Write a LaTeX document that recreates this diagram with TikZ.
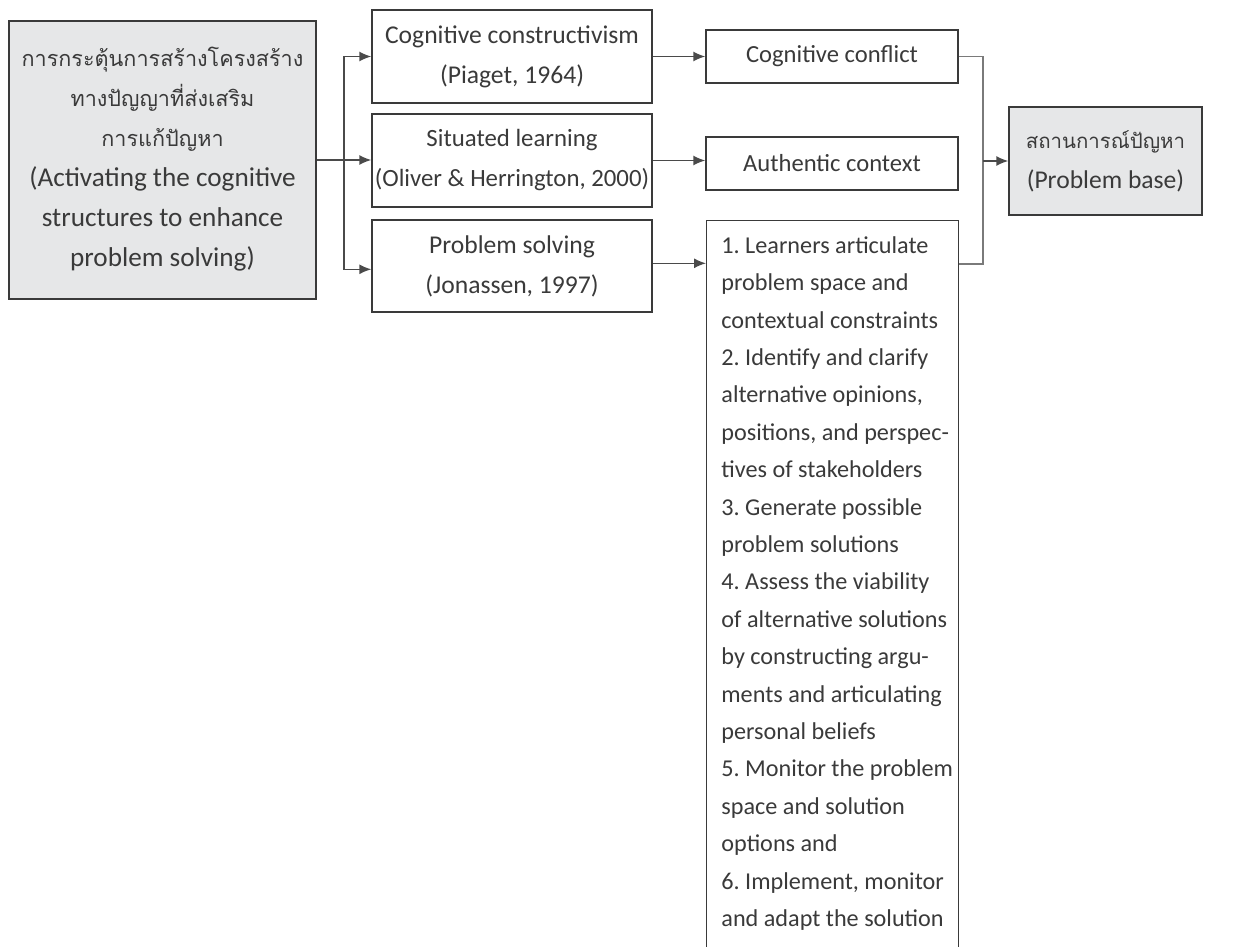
\documentclass[tikz,border=0pt]{standalone}
\usepackage{fontspec}
\setmainfont{Carlito}
\newfontfamily\thaifont[Script=Thai]{Loma}
\newcommand\thtext[2][10.8]{{\thaifont\fontsize{#1}{20}\selectfont #2}}
\usetikzlibrary{arrows.meta,calc}
\definecolor{boxfill}{HTML}{E6E7E8}
\definecolor{boxline}{HTML}{3A3A3A}
\definecolor{conline}{HTML}{4A4A4A}
\definecolor{mergeline}{HTML}{7A7A7A}
\definecolor{txt}{HTML}{3A3A3A}
\tikzset{
  box/.style={draw=boxline, line width=0.7pt, inner sep=0pt, align=center, text=txt,
    font=\frenchspacing\fontsize{12.8}{20}\selectfont},
  graybox/.style={box, fill=boxfill},
  arr/.style={draw=conline, line width=0.7pt, -{Latex[length=6pt,width=5pt]}},
  con/.style={draw=mergeline, line width=0.8pt},
}
\begin{document}
\begin{tikzpicture}[x=0.5pt,y=-0.5pt]
\useasboundingbox[fill=white] (0,0) rectangle (1253,947);
% left box
\node[graybox, minimum width=153.5pt, minimum height=139pt,
  font=\frenchspacing\fontsize{13.6}{20}\selectfont] (L) at (162.5,160)
 {\thtext{การกระตุ้นการสร้างโครงสร้าง}\\\thtext{ทางปัญญาที่ส่งเสริม}\\\thtext{การแก้ปัญหา}\\(Activating the cognitive\\structures to enhance\\problem solving)\\[-17pt]\rule{0pt}{0pt}};
% middle column
\node[box, minimum width=140pt, minimum height=46.5pt] (M1) at (512,56.5)
 {Cognitive constructivism\\(Piaget, 1964)};
\node[box, minimum width=140pt, minimum height=46.5pt, font=\frenchspacing\fontsize{12.4}{20}\selectfont] (M2) at (512,160.5)
 {Situated learning\\(Oliver \& Herrington, 2000)};
\node[box, minimum width=140pt, minimum height=46pt] (M3) at (512,266)
 {Problem solving\\(Jonassen, 1997)};
% right column
\node[box, minimum width=126pt, minimum height=26.5pt, font=\fontsize{12.3}{20}\selectfont] (R1) at (832,56.5) {Cognitive conflict};
\node[box, minimum width=126pt, minimum height=26.5pt, font=\fontsize{12.3}{20}\selectfont] (R2) at (832,163.5) {Authentic context};
\node[box, minimum width=126pt, minimum height=375pt, anchor=north west] (R3) at (706,220) {};
\node[anchor=north west, inner sep=0pt, align=left, text=txt,
  font=\frenchspacing\fontsize{12.1}{18.7}\selectfont] (R3t) at (721,236)
 {1. Learners articulate\\problem space and\\contextual constraints\\2. Identify and clarify\\alternative opinions,\\positions, and perspec-\\tives of stakeholders\\3. Generate possible\\problem solutions\\4. Assess the viability\\of alternative solutions\\by constructing argu-\\ments and articulating\\personal beliefs\\5. Monitor the problem\\space and solution\\options and\\6. Implement, monitor\\and adapt the solution};
% problem base
\node[graybox, minimum width=96.5pt, minimum height=54pt] (P) at (1105.5,161)
 {\thtext[10.2]{สถานการณ์ปัญหา}\\(Problem base)};
% branch from left box
\coordinate (B) at (344,160);
\draw[con, draw=conline] (L.east |- B) -- (B);
\draw[arr] (B) -- (M2.west |- B);
\draw[arr] (B) |- (M1.west);
\draw[arr] (B) |- ($(M3.north west)+(0,50)$);
% middle to right
\draw[arr] (M1.east) -- (M1.east -| R1.west);
\draw[arr] (M2.east) -- (M2.east -| R2.west);
\coordinate (M3a) at ($(M3.north east)+(0,44)$);
\draw[arr] (M3a) -- (M3a -| R3.west);
% merge
\coordinate (J) at (983,161);
\coordinate (R3e) at ($(R3.north east)+(0,44)$);
\draw[con] (R1.east) -| (J);
\draw[con] (R3e) -| (J);
\draw[arr] (J) -- (P.west);
\end{tikzpicture}
\end{document}
